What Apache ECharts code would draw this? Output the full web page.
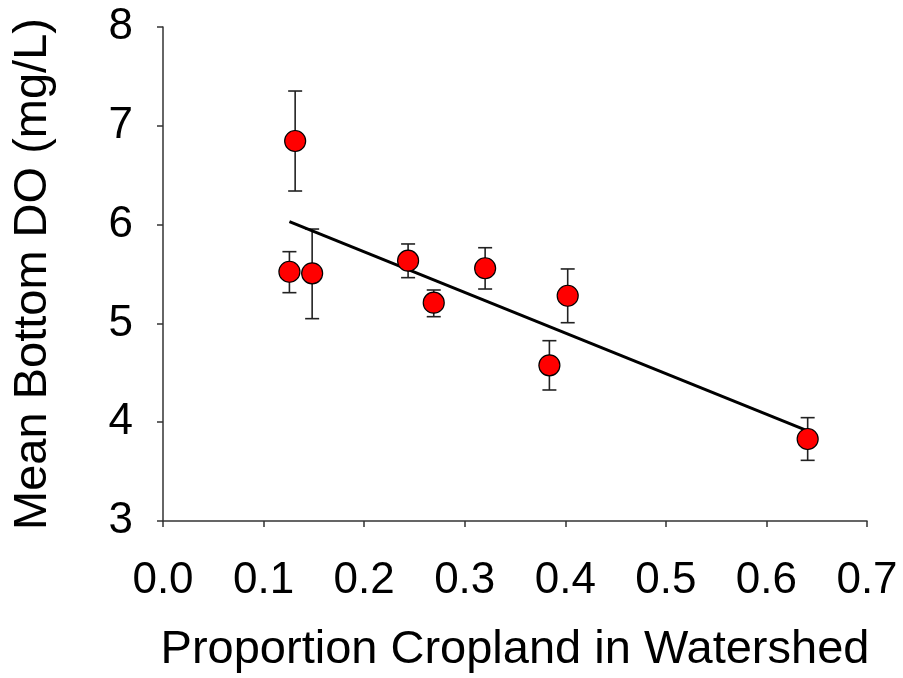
<!DOCTYPE html>
<html>
<head>
    <title>Mean Bottom DO vs Cropland</title>
    <script src="https://cdn.jsdelivr.net/npm/echarts@6/dist/echarts.min.js"></script>
    <style>
        body { margin: 0; background: #fff; overflow: hidden; }
        #chart { width: 903px; height: 678px; }
    </style>
</head>
<body>
    <div id="chart"></div>
    <script>
        // Values
        const cropland = [0.1257, 0.1314, 0.1483, 0.2437, 0.2692, 0.3203, 0.3842, 0.4024, 0.6410];
        const meanDO   = [5.523, 6.846, 5.507, 5.635, 5.210, 5.558, 4.576, 5.280, 3.830];
        const errLow   = [5.311, 6.340, 5.048, 5.463, 5.068, 5.348, 4.326, 5.007, 3.614];
        const errHigh  = [5.726, 7.352, 5.955, 5.804, 5.338, 5.766, 4.825, 5.551, 4.046];
        const xTicks = ['0.0', '0.1', '0.2', '0.3', '0.4', '0.5', '0.6', '0.7'];
        const yTicks = ['3', '4', '5', '6', '7', '8'];

        // least-squares trend line across the data range
        const n = cropland.length;
        const mx = cropland.reduce((a, b) => a + b, 0) / n;
        const my = meanDO.reduce((a, b) => a + b, 0) / n;
        let sxy = 0, sxx = 0;
        for (let i = 0; i < n; i++) {
            sxy += (cropland[i] - mx) * (meanDO[i] - my);
            sxx += (cropland[i] - mx) * (cropland[i] - mx);
        }
        const slope = sxy / sxx;
        const icpt = my - slope * mx;
        const xMin = Math.min(...cropland), xMax = Math.max(...cropland);
        const trend = [[xMin, icpt + slope * xMin], [xMax, icpt + slope * xMax]];

        const chart = echarts.init(document.getElementById('chart'));
        const font = 'Liberation Sans, Arial, sans-serif';

        chart.setOption({
            animation: false,
            grid: {
                left: 163, right: 36, top: 27, bottom: 157,
                containLabel: false, outerBoundsMode: 'none'
            },
            xAxis: {
                type: 'value',
                min: 0, max: 0.7, interval: 0.1,
                name: 'Proportion Cropland in Watershed',
                nameLocation: 'middle',
                nameGap: 89,
                nameMoveOverlap: false,
                nameTextStyle: { fontSize: 47, color: '#000', fontFamily: font },
                splitLine: { show: false },
                axisLine: { lineStyle: { color: '#333', width: 1.5 } },
                axisTick: { length: 6, lineStyle: { color: '#333', width: 1.5 } },
                axisLabel: {
                    fontSize: 44, color: '#000', fontFamily: font, margin: 22,
                    formatter: (v) => xTicks[Math.round(v * 10)]
                }
            },
            yAxis: {
                type: 'value',
                min: 3, max: 8, interval: 1,
                name: 'Mean Bottom DO (mg/L)',
                nameLocation: 'middle',
                nameGap: 89,
                nameMoveOverlap: false,
                nameTextStyle: { fontSize: 47, color: '#000', fontFamily: font },
                splitLine: { show: false },
                axisLine: { show: true, lineStyle: { color: '#333', width: 1.5 } },
                axisTick: { show: true, length: 6, lineStyle: { color: '#333', width: 1.5 } },
                axisLabel: {
                    fontSize: 44, color: '#000', fontFamily: font, margin: 30,
                    formatter: (v) => yTicks[Math.round(v - 3)]
                }
            },
            series: [
                {
                    type: 'custom',
                    z: 1,
                    data: cropland.map((x, i) => [x, errLow[i], errHigh[i]]),
                    renderItem: function (params, api) {
                        const lo = api.coord([api.value(0), api.value(1)]);
                        const hi = api.coord([api.value(0), api.value(2)]);
                        const w = 7;
                        const st = { stroke: '#222', lineWidth: 1.6 };
                        return {
                            type: 'group',
                            children: [
                                { type: 'line', shape: { x1: lo[0], y1: lo[1], x2: hi[0], y2: hi[1] }, style: st },
                                { type: 'line', shape: { x1: lo[0] - w, y1: lo[1], x2: lo[0] + w, y2: lo[1] }, style: st },
                                { type: 'line', shape: { x1: hi[0] - w, y1: hi[1], x2: hi[0] + w, y2: hi[1] }, style: st }
                            ]
                        };
                    }
                },
                {
                    type: 'line',
                    z: 2,
                    data: trend,
                    symbol: 'none',
                    lineStyle: { color: '#000', width: 3 }
                },
                {
                    type: 'scatter',
                    z: 3,
                    data: cropland.map((x, i) => [x, meanDO[i]]),
                    symbol: 'circle',
                    symbolSize: 21,
                    itemStyle: { color: '#ff0000', borderColor: '#000', borderWidth: 1.2, opacity: 1 }
                }
            ]
        });
    </script>
</body>
</html>
